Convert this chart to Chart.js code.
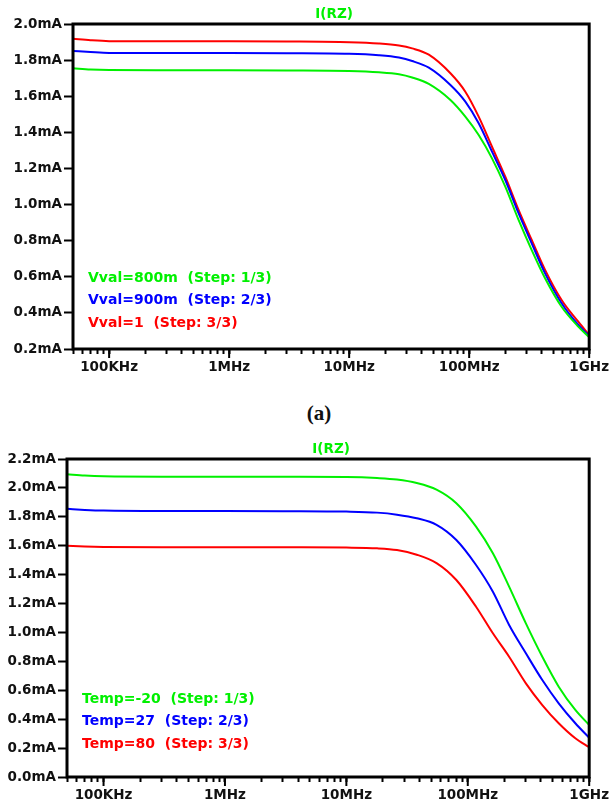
<!DOCTYPE html>
<html>
<head>
<meta charset="utf-8">
<script src="https://cdn.jsdelivr.net/npm/chart.js@4.4.0/dist/chart.umd.min.js"></script>
<style>
	body { margin: 0; background: #fff; width: 614px; height: 805px; position: relative; overflow: hidden; }
	canvas { position: absolute; left: 0; }
	#graficoA { top: 0; }
	#graficoB { top: 435px; }
	.etiqueta { position: absolute; left: 0; width: 638px; top: 401px; text-align: center; font: bold 21px "Liberation Serif", "Times New Roman", serif; color: #111; line-height: 24px; }
</style>
</head>
<body>
<canvas id="graficoA" width="614" height="400"></canvas>
<div class="etiqueta">(a)</div>
<canvas id="graficoB" width="614" height="370"></canvas>
<script>
// eje x comun (Hz)
const xTickValues = [1e5, 1e6, 1e7, 1e8, 1e9];
const xTickLabels = ['100KHz', '1MHz', '10MHz', '100MHz', '1GHz'];

// grafico (a): barrido de Vval
const freqA = [5e4, 7e4, 1e5, 3e5, 1e6, 3e6, 1e7, 1.77e7, 2.6e7, 3.35e7, 4.61e7, 6.98e7, 9.29e7, 1.2e8, 1.55e8, 2.0e8, 2.58e8, 3.32e8, 4.29e8, 5.89e8, 8.11e8, 1e9];
const vval800 = [1.755, 1.748, 1.745, 1.744, 1.744, 1.743, 1.740, 1.733, 1.722, 1.704, 1.668, 1.579, 1.487, 1.385, 1.256, 1.099, 0.915, 0.748, 0.592, 0.434, 0.324, 0.265];
const vval900 = [1.851, 1.845, 1.840, 1.839, 1.839, 1.838, 1.835, 1.827, 1.814, 1.795, 1.758, 1.662, 1.570, 1.450, 1.293, 1.136, 0.952, 0.785, 0.619, 0.453, 0.333, 0.272];
const vval1 = [1.918, 1.910, 1.905, 1.904, 1.904, 1.903, 1.899, 1.892, 1.881, 1.865, 1.830, 1.727, 1.625, 1.487, 1.320, 1.154, 0.970, 0.804, 0.638, 0.471, 0.351, 0.278];
const labelsA = ['Vval=800m  (Step: 1/3)', 'Vval=900m  (Step: 2/3)', 'Vval=1  (Step: 3/3)'];

// grafico (b): barrido de temperatura
const freqB = [5e4, 7e4, 1e5, 3e5, 1e6, 3e6, 1e7, 1.79e7, 2.61e7, 3.8e7, 5.53e7, 8.05e7, 1.17e8, 1.61e8, 2.19e8, 3.01e8, 4.11e8, 5.61e8, 7.69e8, 1e9];
const temp20 = [2.095, 2.085, 2.080, 2.078, 2.078, 2.077, 2.075, 2.068, 2.058, 2.034, 1.988, 1.894, 1.732, 1.548, 1.317, 1.063, 0.832, 0.625, 0.464, 0.360];
const temp27 = [1.855, 1.848, 1.843, 1.840, 1.840, 1.839, 1.836, 1.829, 1.815, 1.790, 1.745, 1.640, 1.467, 1.282, 1.052, 0.856, 0.671, 0.510, 0.372, 0.272];
const temp80 = [1.600, 1.595, 1.592, 1.590, 1.590, 1.589, 1.587, 1.582, 1.570, 1.538, 1.480, 1.363, 1.178, 0.994, 0.832, 0.648, 0.498, 0.372, 0.268, 0.206];
const labelsB = ['Temp=-20  (Step: 1/3)', 'Temp=27  (Step: 2/3)', 'Temp=80  (Step: 3/3)'];

const titulo = 'I(RZ)';
const colores = ['rgb(0,240,0)', 'rgb(0,0,255)', 'rgb(255,0,0)'];
const fuenteEje = { family: 'DejaVu Sans', size: 13.5, weight: 'bold' };

function serie(freq, valores, label, color){
	return {
		label: label,
		data: freq.map((f, i) => ({ x: f, y: valores[i] })),
		borderColor: color,
		borderWidth: 2,
		pointRadius: 0,
		fill: false,
		cubicInterpolationMode: 'monotone'
	};
}

// marco, titulo, ticks mayores y leyenda dentro del area
const plugLtspice = {
	id: 'ltspice',
	afterDraw(chart, args, opts){
		const ctx = chart.ctx;
		const a = chart.chartArea;
		ctx.save();
		ctx.strokeStyle = '#000';
		ctx.lineWidth = 3;
		ctx.strokeRect(a.left, a.top, a.right - a.left, a.bottom - a.top);

		const x = chart.scales.x;
		ctx.lineWidth = 2;
		xTickValues.forEach(v => {
			const px = x.getPixelForValue(v);
			ctx.beginPath();
			ctx.moveTo(px, a.bottom);
			ctx.lineTo(px, a.bottom + 9);
			ctx.stroke();
		});

		ctx.font = 'bold 13.5px "DejaVu Sans"';
		ctx.textAlign = 'center';
		ctx.textBaseline = 'middle';
		ctx.fillStyle = colores[0];
		ctx.fillText(titulo, (a.left + a.right) / 2 + 3, a.top - 10);

		ctx.font = 'bold 14px "DejaVu Sans"';
		ctx.textAlign = 'left';
		chart.data.datasets.forEach((ds, i) => {
			ctx.fillStyle = ds.borderColor;
			ctx.fillText(ds.label, a.left + 15, a.bottom - opts.legendBottom + i * 22.5);
		});
		ctx.restore();
	}
};

function crearGrafico(id, datasets, ymin, ymax, anchoY, pad, legendBottom){
	const minorTicks = [];
	for (let e = 4; e <= 9; e++) {
		for (let m = 1; m <= 9; m++) {
			const v = m * Math.pow(10, e);
			if (v >= 5e4 && v <= 1e9) minorTicks.push(v);
		}
	}
	return new Chart(document.getElementById(id), {
		type: 'line',
		data: { datasets: datasets },
		options: {
			responsive: false,
			animation: false,
			devicePixelRatio: 1,
			layout: { padding: pad },
			plugins: {
				legend: { display: false },
				title: { display: false },
				tooltip: { enabled: false },
				ltspice: { legendBottom: legendBottom }
			},
			scales: {
				x: {
					type: 'logarithmic',
					min: 5e4,
					max: 1e9,
					afterBuildTicks: (scale) => { scale.ticks = minorTicks.map(v => ({ value: v })); },
					afterFit: (scale) => { scale.height = 28; },
					border: { display: false },
					grid: { drawOnChartArea: false, drawTicks: true, tickLength: 5, tickColor: '#000', tickWidth: 2 },
					ticks: {
						autoSkip: false,
						maxRotation: 0,
						padding: 5,
						color: '#111',
						font: fuenteEje,
						callback: (value) => {
							const i = xTickValues.indexOf(value);
							return i >= 0 ? xTickLabels[i] : '';
						}
					}
				},
				y: {
					type: 'linear',
					min: ymin,
					max: ymax,
					afterFit: (scale) => { scale.width = anchoY; },
					border: { display: false },
					grid: { drawOnChartArea: false, drawTicks: true, tickLength: 9, tickColor: '#000', tickWidth: 2 },
					ticks: {
						stepSize: 0.2,
						padding: 2,
						color: '#111',
						font: fuenteEje,
						callback: (v) => v.toFixed(1) + 'mA'
					}
				}
			}
		},
		plugins: [plugLtspice]
	});
}

const graficoA = crearGrafico('graficoA', [
	serie(freqA, vval800, labelsA[0], colores[0]),
	serie(freqA, vval900, labelsA[1], colores[1]),
	serie(freqA, vval1, labelsA[2], colores[2])
], 0.2, 2.0, 73, { top: 24, right: 23, bottom: 23, left: 0 }, 71);

const graficoB = crearGrafico('graficoB', [
	serie(freqB, temp20, labelsB[0], colores[0]),
	serie(freqB, temp27, labelsB[1], colores[1]),
	serie(freqB, temp80, labelsB[2], colores[2])
], 0.0, 2.2, 67, { top: 24, right: 20, bottom: 0, left: 0 }, 78);
</script>
</body>
</html>
